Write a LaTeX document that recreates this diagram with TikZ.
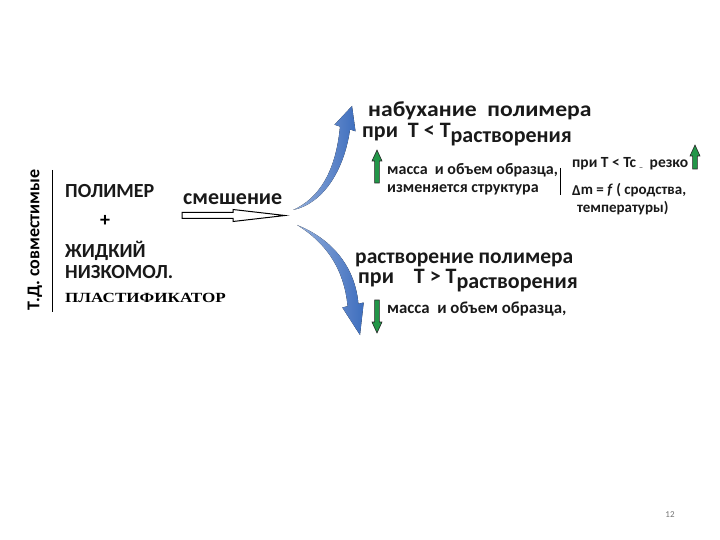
\documentclass[tikz,border=0pt]{standalone}
\usepackage{fontspec}
\setmainfont{Carlito}
\newfontfamily\plastfont{Liberation Serif}

\definecolor{arrowblue}{RGB}{62,110,190}
\definecolor{mgreen}{RGB}{34,150,72}

\tikzset{
  lbl/.style={anchor=base west, inner sep=0pt, text=black!90,
    font=\bfseries\fontsize{#1}{#1}\selectfont},
  pics/grnarrow/.style={code={
    \filldraw [fill=mgreen, draw=black!85, line width=0.6pt, line join=miter]
      (-2.4, 0) -- (-2.4, -#1+11) -- (-5, -#1+11) -- (0, -#1)
      -- (5, -#1+11) -- (2.4, -#1+11) -- (2.4, 0) -- cycle;
  }},
  mixarrow/.style={draw=black, fill=white, line width=1pt, line join=miter},
  bluearrow/.style={left color=arrowblue!55!white, right color=arrowblue, draw=none}
}

\begin{document}
\begin{tikzpicture}[x=1pt, y=-1pt]
    \useasboundingbox (0,0) rectangle (720,540);

    % Left block
    \node [rotate=90, inner sep=0pt, font=\bfseries\fontsize{18}{18}\selectfont]
          (td) at (35, 240) {Т.Д. совместимые};
    \draw [line width=1pt] (52, 170) -- (52, 312);
    \node [lbl=20] (pol) at (65, 197) {ПОЛИМЕР};
    \node [inner sep=0pt, font=\bfseries\fontsize{20}{20}\selectfont] (plus) at (105, 221) {+};
    \node [lbl=20] (liq) at (65, 258) {ЖИДКИЙ};
    \node [lbl=20] (low) at (65, 278) {НИЗКОМОЛ.};
    \node [anchor=base west, inner sep=0pt, font=\plastfont\bfseries\fontsize{14}{14}\selectfont]
          (plast) at (65, 302) {\scalebox{1.22}[1]{ПЛАСТИФИКАТОР}};

    % Mixing
    \node [lbl=22] (mix) at (183, 205) {смешение};
    \coordinate (mixtail) at (182, 215.5);
    \coordinate (mixtip) at (285, 215.5);
    \draw [mixarrow] (182, 212.5) -- (233, 212.5) -- (233, 209.5) -- (mixtip)
          -- (233, 221.5) -- (233, 218.5) -- (182, 218.5) -- cycle;
    \coordinate (upfrom) at (293, 210);
    \coordinate (downfrom) at (297, 225);

    % Swelling branch
    \node [lbl=21.5] (swell) at (368, 117) {\scalebox{1.1}[1]{набухание\ \ полимера}};
    \node [lbl=22] (swellT) at (362, 138) {при\ \ Т < Т\raisebox{-5pt}{растворения}};
    \pic (swup) at (377, 183) {grnarrow=33};
    \node [lbl=16] (swm1) at (387, 175) {масса\ \ и объем образца,};
    \node [lbl=16] (swm2) at (387, 193) {изменяется структура};
    \draw [line width=0.8pt] (560, 168) -- (560, 195);
    \node [lbl=15.5] (tc) at (572, 168) {при Т < Тс\ {\fontsize{6}{6}\selectfont\_}\ \ резко};
    \pic (tcup) at (695, 169) {grnarrow=24};
    \node [lbl=15] (dm) at (572, 195) {\raisebox{-1pt}{Δ}m = \textit{f} ( сродства,};
    \node [lbl=15] (temp) at (577, 213) {температуры)};

    % Dissolution branch
    \node [lbl=21.5] (diss) at (355, 263) {растворение полимера};
    \node [lbl=22] (dissT) at (358, 283) {при\ \ \ \ Т > Т\raisebox{-5pt}{растворения}};
    \pic [rotate=180] (dsdown) at (377, 300) {grnarrow=33};
    \node [lbl=16.8] (dsm) at (387, 313) {масса\ \ и объем образца,};

    % Curved arrows
    \fill [bluearrow] (upfrom) .. controls (320, 198) and (336, 170) .. (340, 126.5)
          -- (334.5, 124.7) -- (352, 106) -- (355.5, 131.3) -- (350, 129.5)
          .. controls (344, 172) and (322, 204) .. (upfrom) -- cycle;
    \fill [bluearrow] (downfrom) .. controls (330, 238) and (355, 265) .. (358.4, 303.8)
          -- (363.7, 302.5) -- (360, 335) -- (342.3, 307.5) -- (347.6, 306.2)
          .. controls (344, 268) and (325, 242) .. (downfrom) -- cycle;

    % Page number
    \node [inner sep=0pt, text=black!55, font=\fontsize{9}{9}\selectfont] (page) at (670, 515) {12};
\end{tikzpicture}
\end{document}
